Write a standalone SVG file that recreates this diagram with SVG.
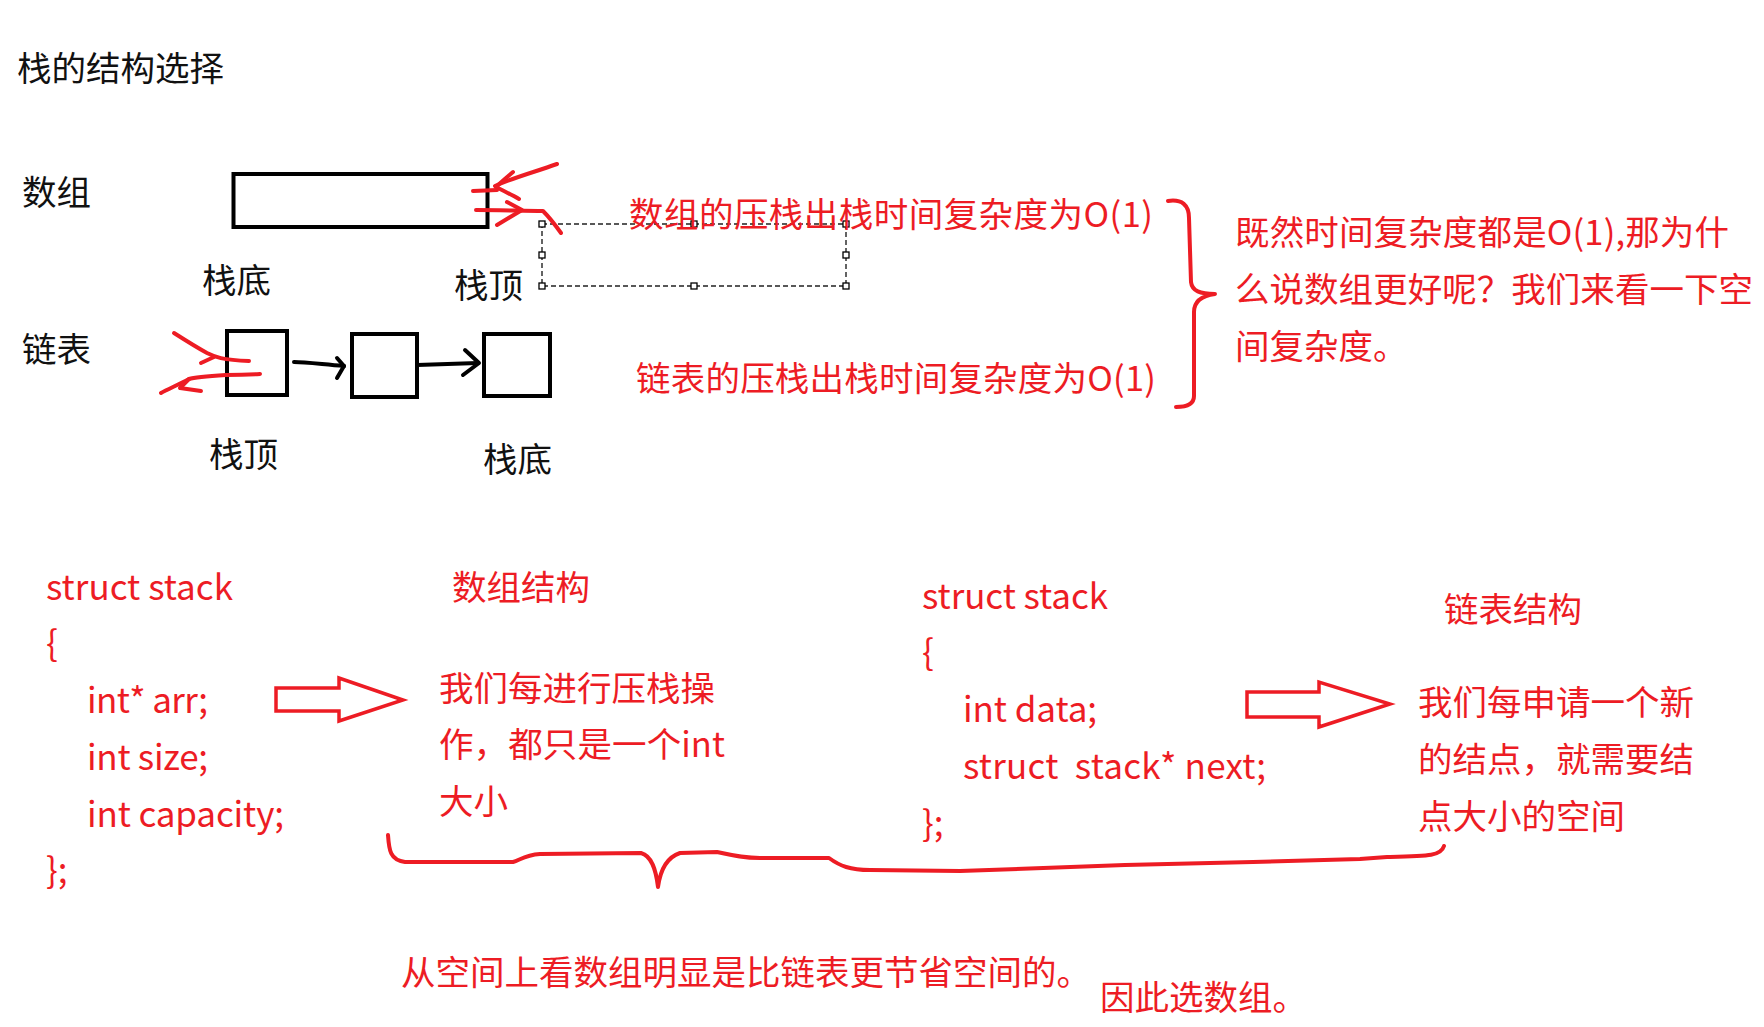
<svg xmlns="http://www.w3.org/2000/svg" width="1764" height="1027" viewBox="0 0 1764 1027">
<style>
.t{font-family:"Noto Sans CJK SC","Noto Sans",sans-serif;font-size:34.5px;fill:#111}
.r{font-family:"Noto Sans CJK SC","Noto Sans",sans-serif;font-size:34.5px;fill:#ED1C24}
.c{font-family:"Noto Sans CJK SC","Noto Sans",sans-serif;font-size:35px;fill:#ED1C24;white-space:pre}
.box{fill:none;stroke:#000;stroke-width:4}
.ink{fill:none;stroke:#ED1C24;stroke-width:4;stroke-linecap:round;stroke-linejoin:round}
.blk{fill:none;stroke:#000;stroke-width:4;stroke-linecap:round;stroke-linejoin:round}
.hol{fill:none;stroke:#ED1C24;stroke-width:3.5}
.dash{fill:none;stroke:#222;stroke-width:1.4;stroke-dasharray:5 3}
.h{fill:#fff;stroke:#000;stroke-width:1.3}
</style>
<rect width="1764" height="1027" fill="#fff"/>

<g id="title"><text class="t" x="17" y="81">栈的结构选择</text></g>

<g id="array">
<text class="t" x="22" y="205">数组</text>
<rect class="box" x="233.5" y="174" width="254" height="53"/>
<text class="t" x="202" y="293">栈底</text>
<text class="t" x="454" y="298">栈顶</text>
</g>

<g id="selection">
<rect class="dash" x="542" y="224" width="304" height="62"/>
<rect class="h" x="539" y="221" width="6" height="6"/>
<rect class="h" x="691" y="221" width="6" height="6"/>
<rect class="h" x="843" y="221" width="6" height="6"/>
<rect class="h" x="539" y="252" width="6" height="6"/>
<rect class="h" x="843" y="252" width="6" height="6"/>
<rect class="h" x="539" y="283" width="6" height="6"/>
<rect class="h" x="691" y="283" width="6" height="6"/>
<rect class="h" x="843" y="283" width="6" height="6"/>
</g>

<g id="list">
<text class="t" x="22" y="362">链表</text>
<rect id="node1" class="box" x="227" y="331" width="60" height="64"/>
<rect id="node2" class="box" x="352" y="334" width="65" height="63"/>
<rect id="node3" class="box" x="484" y="334" width="66" height="62"/>
<text class="t" x="209" y="467">栈顶</text>
<text class="t" x="483" y="472">栈底</text>
</g>

<g id="complexity">
<text class="r" x="629" y="227" textLength="524">数组的压栈出栈时间复杂度为O(1)</text>
<text class="r" x="636" y="391" textLength="520">链表的压栈出栈时间复杂度为O(1)</text>
</g>

<g id="question">
<text class="r" x="1235" y="245" textLength="494">既然时间复杂度都是O(1),那为什</text>
<text class="r" x="1235" y="302" textLength="518">么说数组更好呢？我们来看一下空</text>
<text class="r" x="1235" y="359">间复杂度。</text>
</g>

<g id="array-code">
<text class="c" x="46" y="600" textLength="187">struct stack</text>
<text class="c" x="46" y="656">{</text>
<text class="c" x="87" y="713" textLength="121">int* arr;</text>
<text class="c" x="87" y="770" textLength="121">int size;</text>
<text class="c" x="87" y="827" textLength="197">int capacity;</text>
<text class="c" x="46" y="883">};</text>
</g>

<g id="array-desc">
<text class="r" x="452" y="600">数组结构</text>
<text class="r" x="439" y="701">我们每进行压栈操</text>
<text class="r" x="439" y="757" textLength="286">作，都只是一个int</text>
<text class="r" x="439" y="814">大小</text>
</g>

<g id="list-code">
<text class="c" x="922" y="609" textLength="186">struct stack</text>
<text class="c" x="922" y="665">{</text>
<text class="c" x="963" y="722" textLength="134">int data;</text>
<text class="c" x="963" y="779" textLength="303">struct  stack* next;</text>
<text class="c" x="922" y="836">};</text>
</g>

<g id="list-desc">
<text class="r" x="1444" y="622">链表结构</text>
<text class="r" x="1418" y="715">我们每申请一个新</text>
<text class="r" x="1418" y="772">的结点，就需要结</text>
<text class="r" x="1418" y="829">点大小的空间</text>
</g>

<g id="conclusion">
<text class="r" x="401" y="985" textLength="690">从空间上看数组明显是比链表更节省空间的。</text>
<text class="r" x="1100" y="1010">因此选数组。</text>
</g>

<g id="connectors">
<path class="ink" d="M557,164 C535,172 515,177 495,186"/>
<path class="ink" d="M513,172 C506,178 500,183 496,187 C504,191 512,195 519,199"/>
<path class="ink" d="M473,191 L497,190"/>
<path class="ink" d="M476,210 C500,210 525,211 543,211 C550,218 556,226 561,233"/>
<path class="ink" d="M507,202 L522,210 L497,225"/>
<path class="ink" d="M174,333 C185,340 196,347 207,353 C215,357 222,360 249,361"/>
<path class="ink" d="M201,363 L214,357"/>
<path class="ink" d="M260,374 C245,375 230,375 226,375 C210,376 195,377 189,379 C178,385 168,389 161,393"/>
<path class="ink" d="M189,379 L180,388 L201,391"/>
<path class="blk" d="M294,362 C305,362 320,364 344,366"/>
<path class="blk" d="M337,358 L344,366 L337,378"/>
<path class="blk" d="M417,365 L478,363"/>
<path class="blk" d="M465,350 L479,363 L463,375"/>
<path class="ink" d="M1168,201 C1182,199 1189,205 1189,218 L1191,282 C1192,291 1200,294 1215,294 C1200,296 1194,302 1194,312 L1194,396 C1194,404 1186,407 1176,407"/>
<path class="hol" d="M276,688 L339,688 L339,678 L403,700 L339,721 L339,711 L276,711 Z"/>
<path class="hol" d="M1247,692 L1319,692 L1319,682 L1390,704 L1319,727 L1319,717 L1247,717 Z"/>
<path class="ink" d="M388,835 C389,850 390,860 405,862 L513,862 C520,860 525,855 540,854 L641,853 C652,856 656,870 658,887 C660,872 665,858 680,853 L717,852 C735,856 745,858 760,858 L829,858 C840,866 850,870 870,870 L960,871 C1000,870 1040,868 1125,865 L1253,862 L1360,859 L1387,857 C1430,856 1441,856 1444,846"/>
</g>
</svg>
